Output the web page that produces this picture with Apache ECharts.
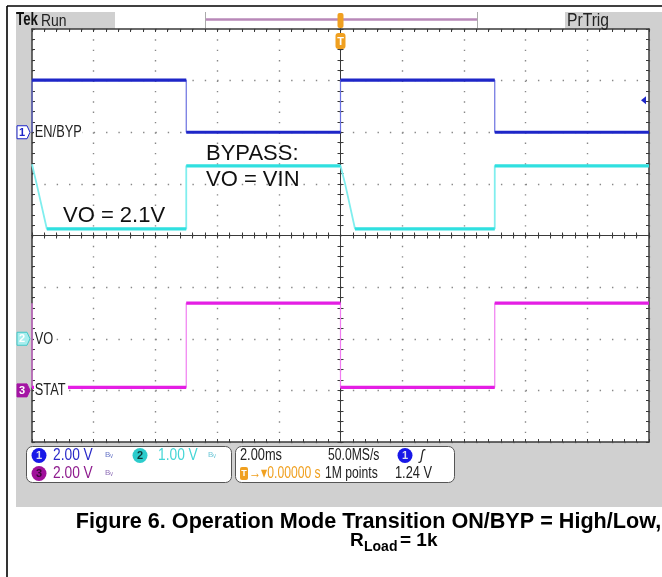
<!DOCTYPE html>
<html><head><meta charset="utf-8">
<script src="https://cdn.jsdelivr.net/npm/echarts/dist/echarts.min.js"></script>
<style>html,body{margin:0;padding:0;background:#fff}#c{width:662px;height:577px}</style>
</head><body><div id="c"></div>
<script>
// ---- horizontal: time in ms (2 ms/div), trigger at 0 ----
const timeMin = -10, timeMax = 10, timeStep = 2;
// ---- vertical: screen divisions ----
const divMin = -4, divMax = 4, divStep = 1;

// channel settings (volts per division, ground marker position in divisions)
const ch1Name = 'EN/BYP', ch1Scale = 2.0, ch1Ground = 2;
const ch2Name = 'VO',     ch2Scale = 1.0, ch2Ground = -2;
const ch3Name = 'STAT',   ch3Scale = 2.0, ch3Ground = -3;
const trigLevel = 1.24;

// traces: time (ms) and volts
const enBypTime = [-10, -10, -5, -5, 0, 0, 5, 5, 10];
const enBypVolt = [0.0, 2.02, 2.02, 0.0, 0.0, 2.02, 2.02, 0.0, 0.0];
const voTime = [-10, -9.85, -9.52, -5, -5, 0, 0.15, 0.47, 5, 5, 10];
const voVolt = [3.38, 3.0, 2.13, 2.13, 3.35, 3.35, 3.0, 2.13, 2.13, 3.35, 3.35];
const statTime = [-10, -10, -5, -5, 0, 0, 5, 5, 10];
const statVolt = [3.38, 0.12, 0.12, 3.38, 3.38, 0.12, 0.12, 3.38, 3.38];

// readouts
const ch1Readout = '2.00 V', ch2Readout = '1.00 V', ch3Readout = '2.00 V';
const timeReadout = '2.00ms', rateReadout = '50.0MS/s', posReadout = '\u2192\u25BE0.00000 s';
const pointsReadout = '1M points', trigReadout = '1.24 V';

const FA = "'Liberation Sans',Arial,Helvetica,sans-serif";
const FN = FA;
const C1 = '#1e26c8', C1e = '#6a70e0';
const C2 = '#30e0e0', C2e = '#80eeee';
const C3 = '#e41ee4', C3e = '#f07cf0';
const AX = '#3a3a3a';

function toScreen(t, v, scale, gnd) { return t.map((x, i) => [x, gnd + v[i] / scale]); }
function levels(pts) {
  const out = [];
  for (let i = 0; i < pts.length - 1; i++) {
    if (pts[i][1] === pts[i + 1][1] && pts[i][0] !== pts[i + 1][0]) {
      out.push(pts[i], pts[i + 1], [pts[i + 1][0], '-']);
    }
  }
  return out;
}
const p1 = toScreen(enBypTime, enBypVolt, ch1Scale, ch1Ground);
const p2 = toScreen(voTime, voVolt, ch2Scale, ch2Ground);
const p3 = toScreen(statTime, statVolt, ch3Scale, ch3Ground);

const G = { left: 32, top: 29, width: 617, height: 413 };
function xAx(g, pos, inside, split, center) {
  return {
    gridIndex: g, type: 'value', min: timeMin, max: timeMax, interval: timeStep, position: pos,
    axisLine: { show: true, onZero: center, lineStyle: { color: AX, width: center ? 1 : 1.5 } },
    axisTick: { show: true, inside: inside, length: 3, lineStyle: { color: AX, width: 1 } },
    minorTick: { show: true, splitNumber: 5, length: 3, lineStyle: { color: AX, width: 1 } },
    axisLabel: { show: false },
    splitLine: { show: split, lineStyle: { color: '#888', width: 1.4, type: [1.4, 8.925] } },
    minorSplitLine: { show: false }
  };
}
function yAx(g, pos, inside, split, center) {
  return {
    gridIndex: g, type: 'value', min: divMin, max: divMax, interval: divStep, position: pos,
    axisLine: { show: true, onZero: center, lineStyle: { color: AX, width: center ? 1 : 1.5 } },
    axisTick: { show: true, inside: inside, length: 3, lineStyle: { color: AX, width: 1 } },
    minorTick: { show: true, splitNumber: 5, length: 3, lineStyle: { color: AX, width: 1 } },
    axisLabel: { show: false },
    splitLine: { show: split, lineStyle: { color: '#888', width: 1.4, type: [1.4, 10.94] } },
    minorSplitLine: { show: false }
  };
}
function trace(pts, col, colE, name, wThin) {
  return [
    { type: 'line', name: name + ' edges', xAxisIndex: 0, yAxisIndex: 0, data: pts, showSymbol: false, symbol: 'none',
      lineStyle: { color: colE, width: wThin }, z: 3, silent: true },
    { type: 'line', name: name, xAxisIndex: 0, yAxisIndex: 0, data: levels(pts), showSymbol: false, symbol: 'none',
      connectNulls: false, lineStyle: { color: col, width: 3.2 }, z: 4, silent: true }
  ];
}

const chart = echarts.init(document.getElementById('c'), null, { renderer: 'canvas' });
chart.setOption({
  animation: false,
  backgroundColor: '#ffffff',
  grid: [0, 1, 2, 3].map(() => Object.assign({ show: false, containLabel: false, outerBoundsMode: 'none' }, G)),
  xAxis: [xAx(0, 'bottom', true, true, false), xAx(1, 'top', true, false, false),
          xAx(2, 'bottom', true, false, true), xAx(3, 'bottom', false, false, true)],
  yAxis: [yAx(0, 'left', true, true, false), yAx(1, 'right', true, false, false),
          yAx(2, 'left', true, false, true), yAx(3, 'left', false, false, true)],
  series: [].concat(trace(p3, C3, C3e, ch3Name, 1.2), trace(p2, C2, C2e, ch2Name, 1.8), trace(p1, C1, C1e, ch1Name, 1.2))
});

function px(t, d) { return chart.convertToPixel({ gridIndex: 0 }, [t, d]); }
const yc1 = px(timeMin, ch1Ground)[1], yc2 = px(timeMin, ch2Ground)[1], yc3 = px(timeMin, ch3Ground)[1];
const yTrig = px(timeMax, ch1Ground + trigLevel / ch1Scale)[1];
const xTrig = px(0, 0)[0];
const xR = px(timeMax, 0)[0];

function T(x, y, text, o, sx) {
  return { type: 'text', x: x, y: y, z: 20, silent: true, scaleX: sx || 1, originX: 0, originY: 0,
    style: Object.assign({ text: text, fill: '#222', fontSize: 16, fontFamily: FN, align: 'left', verticalAlign: 'middle' }, o || {}) };
}
const NX = 0.8; // condensed look of the scope font
function R(x, y, w, h, fill, o) {
  return { type: 'rect', z: 20, silent: true, shape: Object.assign({ x: x, y: y, width: w, height: h }, (o && o.shape) || {}),
    style: Object.assign({ fill: fill }, (o && o.style) || {}) };
}
function marker(y, num, fill, stroke, tcol) {
  return [
    { type: 'polygon', z: 20, silent: true, shape: { points: [[17, y - 6.5], [27, y - 6.5], [30, y], [27, y + 6.5], [17, y + 6.5]] },
      style: { fill: fill, stroke: stroke, lineWidth: 1 } },
    T(22, y + 0.5, num, { fill: tcol, fontSize: 11, fontWeight: 'bold', align: 'center', fontFamily: FA })
  ];
}
function badge(cx, cy, num, fill, tcol) {
  return [
    { type: 'circle', z: 20, silent: true, shape: { cx: cx, cy: cy, r: 7.5 }, style: { fill: fill } },
    T(cx, cy + 0.5, num, { fill: tcol, fontSize: 11, fontWeight: 'bold', align: 'center', fontFamily: FA })
  ];
}

const els = [];
// backgrounds
els.push({ type: 'rect', z: -10, z2: 0, silent: true, shape: { x: 16, y: 12, width: 646, height: 495 }, style: { fill: '#d0d0d0' } });
els.push({ type: 'rect', z: -10, z2: 1, silent: true, shape: { x: G.left, y: G.top, width: G.width, height: G.height }, style: { fill: '#ffffff' } });
els.push({ type: 'rect', z: -10, z2: 1, silent: true, shape: { x: 115, y: 12, width: 450, height: 17 }, style: { fill: '#ffffff' } });
// frame
els.push({ type: 'line', z: 30, silent: true, shape: { x1: 7, y1: 6, x2: 662, y2: 6 }, style: { stroke: '#000', lineWidth: 1.6 } });
els.push({ type: 'line', z: 30, silent: true, shape: { x1: 7, y1: 6, x2: 7, y2: 577 }, style: { stroke: '#000', lineWidth: 1.6 } });
// status bar
els.push(T(16, 20, 'Tek', { fontWeight: 'bold', fontSize: 19, fill: '#111' }, 0.7));
els.push(T(41, 21, 'Run', { fontSize: 17, fill: '#222' }, 0.82));
els.push(T(567, 21, 'PrTrig', { fontSize: 18, fill: '#222' }, 0.87));
els.push({ type: 'line', z: 20, silent: true, shape: { x1: 206, y1: 19.5, x2: 477, y2: 19.5 }, style: { stroke: '#b888b8', lineWidth: 2.5 } });
els.push({ type: 'line', z: 20, silent: true, shape: { x1: 205.5, y1: 12, x2: 205.5, y2: 28 }, style: { stroke: '#aaa', lineWidth: 1 } });
els.push({ type: 'line', z: 20, silent: true, shape: { x1: 477.5, y1: 12, x2: 477.5, y2: 28 }, style: { stroke: '#aaa', lineWidth: 1 } });
// trigger position markers
els.push(R(xTrig - 3, 13, 6, 15, '#f0a020', { shape: { r: 2 } }));
els.push(R(xTrig - 5, 33, 10, 16, '#f0a020', { shape: { r: 3 } }));
els.push(T(xTrig, 41.5, 'T', { fill: '#fff', fontSize: 11, fontWeight: 'bold', align: 'center', fontFamily: FA }));
// trigger level arrow
els.push({ type: 'polygon', z: 20, silent: true, shape: { points: [[xR - 8, yTrig], [xR - 3, yTrig - 4], [xR - 3, yTrig + 4]] }, style: { fill: C1 } });
// channel markers and labels
marker(yc1, '1', '#ffffff', C1, C1).forEach(e => els.push(e));
els.push(T(34, yc1 + 0.5, ch1Name, { backgroundColor: '#fff', padding: [0, 1] }, NX));
marker(yc2, '2', '#a8eeee', '#40c8c8', '#ffffff').forEach(e => els.push(e));
els.push(T(34, yc2 + 0.5, ch2Name, { backgroundColor: '#fff', padding: [0, 1] }, NX));
marker(yc3, '3', '#a414a4', '#a414a4', '#ffffff').forEach(e => els.push(e));
els.push(T(34, yc3 + 0.5, ch3Name, { backgroundColor: '#fff', padding: [0, 3, 0, 1] }, NX));
// annotations
els.push(T(206, 154, 'BYPASS:', { fontFamily: FA, fontSize: 22, fill: '#111' }));
els.push(T(206, 180, 'VO = VIN', { fontFamily: FA, fontSize: 22, fill: '#111' }));
els.push(T(63, 216, 'VO = 2.1V', { fontFamily: FA, fontSize: 22, fill: '#111' }));
// readout boxes
els.push(R(26.5, 446.5, 205, 36, '#fff', { shape: { r: 6 }, style: { stroke: '#555', lineWidth: 1 } }));
els.push(R(235.5, 446.5, 219, 36, '#fff', { shape: { r: 6 }, style: { stroke: '#555', lineWidth: 1 } }));
badge(39, 455.5, '1', '#1818e8', '#dde').forEach(e => els.push(e));
els.push(T(53, 456, ch1Readout, { fill: '#2a2ac8' }, 0.86));
els.push(T(105, 455, 'B\u1D65', { fill: '#6a78c8', fontSize: 8 }));
badge(140, 455.5, '2', '#2ccccc', '#0d3a3a').forEach(e => els.push(e));
els.push(T(158, 456, ch2Readout, { fill: '#46d6d6' }, 0.86));
els.push(T(208, 455, 'B\u1D65', { fill: '#70c8d8', fontSize: 8 }));
badge(39, 473.5, '3', '#a0109a', '#3a0838').forEach(e => els.push(e));
els.push(T(53, 474, ch3Readout, { fill: '#8e1c8e' }, 0.86));
els.push(T(105, 473, 'B\u1D65', { fill: '#9070b8', fontSize: 8 }));
els.push(T(240, 456, timeReadout, { fill: '#222' }, NX));
els.push(T(328, 456, rateReadout, { fill: '#222' }, 0.76));
badge(405, 455.5, '1', '#1818e8', '#dde').forEach(e => els.push(e));
els.push(T(420, 456, '\u0283', { fill: '#222', fontStyle: 'italic', fontFamily: FA, fontSize: 14 }));
els.push(R(240, 467, 8, 13, '#f0a020', { shape: { r: 2 } }));
els.push(T(244, 473.5, 'T', { fill: '#fff', fontSize: 9, fontWeight: 'bold', align: 'center', fontFamily: FA }));
els.push(T(249, 474, posReadout, { fill: '#f0a020' }, 0.76));
els.push(T(325, 474, pointsReadout, { fill: '#222' }, 0.76));
els.push(T(395, 474, trigReadout, { fill: '#222' }, NX));
// caption
els.push(T(368.5, 522, 'Figure 6. Operation Mode Transition ON/BYP = High/Low,', { fontFamily: FA, fontWeight: 'bold', fontSize: 21.6, fill: '#000', align: 'center' }));
els.push(T(350, 541, 'R', { fontFamily: FA, fontWeight: 'bold', fontSize: 19, fill: '#000' }));
els.push(T(364, 547, 'Load', { fontFamily: FA, fontWeight: 'bold', fontSize: 14, fill: '#000' }));
els.push(T(400, 541, '= 1k', { fontFamily: FA, fontWeight: 'bold', fontSize: 19, fill: '#000' }));

chart.setOption({ graphic: { elements: els } });
</script>
</body></html>
